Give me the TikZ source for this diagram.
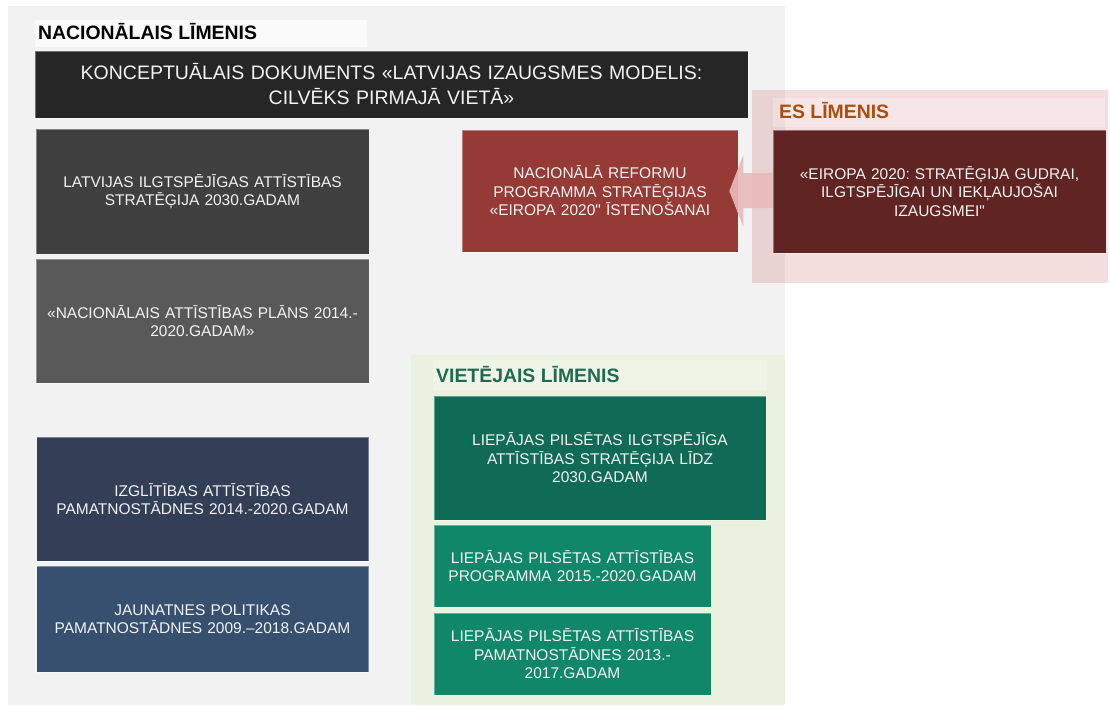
\documentclass[tikz,border=0pt]{standalone}
\usepackage{fontspec}
\setmainfont{Liberation Sans}[Ligatures=TeXOff]
\usetikzlibrary{calc}
\frenchspacing
\definecolor{panelgray}{HTML}{F2F2F2}
\definecolor{stripgray}{HTML}{FAFAFA}
\definecolor{titlebg}{HTML}{262626}
\definecolor{darkgray}{HTML}{404040}
\definecolor{midgray}{HTML}{595959}
\definecolor{navyA}{HTML}{323F57}
\definecolor{navyB}{HTML}{385070}
\definecolor{redA}{HTML}{953A34}
\definecolor{redB}{HTML}{602522}
\definecolor{esred}{HTML}{C0504D}
\definecolor{eslabel}{HTML}{A94E10}
\definecolor{arrowpink}{HTML}{E7BBBA}
\definecolor{greenpanel}{HTML}{EBF1DF}
\definecolor{greenlabel}{HTML}{1D6B50}
\definecolor{greenA}{HTML}{0F6B55}
\definecolor{greenB}{HTML}{11876A}
\definecolor{boxtext}{HTML}{F2F2F2}
\begin{document}
\begin{tikzpicture}[x=1pt,y=-1pt,
  docbox/.style={rectangle, inner sep=0pt, draw=white, draw opacity=0.35, line width=0.6pt,
    text=boxtext, align=center, font=\fontsize{15.5}{18.5}\selectfont},
  heading/.style={anchor=base west, inner sep=0pt, font=\bfseries\fontsize{19.4}{22}\selectfont}]
\useasboundingbox (0,0) rectangle (1110,705);
\fill[white] (0,0) rectangle (1110,705);
% panels
\fill[panelgray] (8,6) rectangle (785,705);
\fill[esred, opacity=0.19] (752,90) rectangle (1108,283);
\fill[greenpanel] (411,355) rectangle (785,705);
% heading strips
\fill[stripgray] (35,20) rectangle (367,47);
\fill[white, opacity=0.25] (773,98) rectangle (1105,127);
\fill[white, opacity=0.25] (433,360) rectangle (767,390);
% headings
\node[heading, text=black] (hnat) at (38,39) {NACIONĀLAIS LĪMENIS};
\node[heading, text=eslabel] (hes) at (779,118) {ES LĪMENIS};
\node[heading, text=greenlabel] (hloc) at (436,382) {VIETĒJAIS LĪMENIS};
% title box
\node[docbox, fill=titlebg, minimum width=713pt, minimum height=67pt, text width=705pt,
  font=\fontsize{19.5}{25}\selectfont] (title) at (391.5,84.5)
  {KONCEPTUĀLAIS DOKUMENTS «LATVIJAS IZAUGSMES MODELIS:\\CILVĒKS PIRMAJĀ VIETĀ»};
% national boxes
\node[docbox, fill=darkgray, minimum width=333pt, minimum height=125pt, text width=325pt] (n1) at (202.5,191.5)
  {LATVIJAS ILGTSPĒJĪGAS ATTĪSTĪBAS\\STRATĒĢIJA 2030.GADAM};
\node[docbox, fill=midgray, minimum width=333pt, minimum height=124pt, text width=325pt] (n2) at (202.5,321)
  {«NACIONĀLAIS ATTĪSTĪBAS PLĀNS 2014.-\\2020.GADAM»};
\node[docbox, fill=navyA, minimum width=332pt, minimum height=124pt, text width=325pt] (n3) at (202.5,499)
  {IZGLĪTĪBAS ATTĪSTĪBAS\\PAMATNOSTĀDNES 2014.-2020.GADAM};
\node[docbox, fill=navyB, minimum width=332pt, minimum height=106pt, text width=325pt] (n4) at (202.5,619)
  {JAUNATNES POLITIKAS\\PAMATNOSTĀDNES 2009.–2018.GADAM};
% reform programme
\node[docbox, fill=redA, minimum width=276pt, minimum height=122pt, text width=270pt] (nrp) at (600,191)
  {NACIONĀLĀ REFORMU\\PROGRAMMA STRATĒĢIJAS\\«EIROPA 2020" ĪSTENOŠANAI};
% EU strategy
\node[docbox, fill=redB, minimum width=333pt, minimum height=123pt, text width=325pt] (eu) at (939.5,191.5)
  {«EIROPA 2020: STRATĒĢIJA GUDRAI,\\ILGTSPĒJĪGAI UN IEKĻAUJOŠAI\\IZAUGSMEI"};
% block arrow from EU to national reform programme
\fill[arrowpink, opacity=0.92] ($(nrp.east)+(-9,0)$) -- ++(14,-36) -- ++(0,18)
  -- ($(eu.west)+(0,-18.5)$) -- ($(eu.west)+(0,16.5)$) -- ($(nrp.east)+(5,17)$)
  -- ++(0,19) -- cycle;
% local boxes
\node[docbox, fill=greenA, minimum width=332pt, minimum height=124pt, text width=325pt] (l1) at (600,458)
  {LIEPĀJAS PILSĒTAS ILGTSPĒJĪGA\\ATTĪSTĪBAS STRATĒĢIJA LĪDZ\\2030.GADAM};
\node[docbox, fill=greenB, minimum width=277pt, minimum height=82pt, text width=270pt] (l2) at (572.5,566)
  {LIEPĀJAS PILSĒTAS ATTĪSTĪBAS\\PROGRAMMA 2015.-2020.GADAM};
\node[docbox, fill=greenB, minimum width=277pt, minimum height=82pt, text width=270pt] (l3) at (572.5,654)
  {LIEPĀJAS PILSĒTAS ATTĪSTĪBAS\\PAMATNOSTĀDNES 2013.-\\2017.GADAM};
\end{tikzpicture}
\end{document}
